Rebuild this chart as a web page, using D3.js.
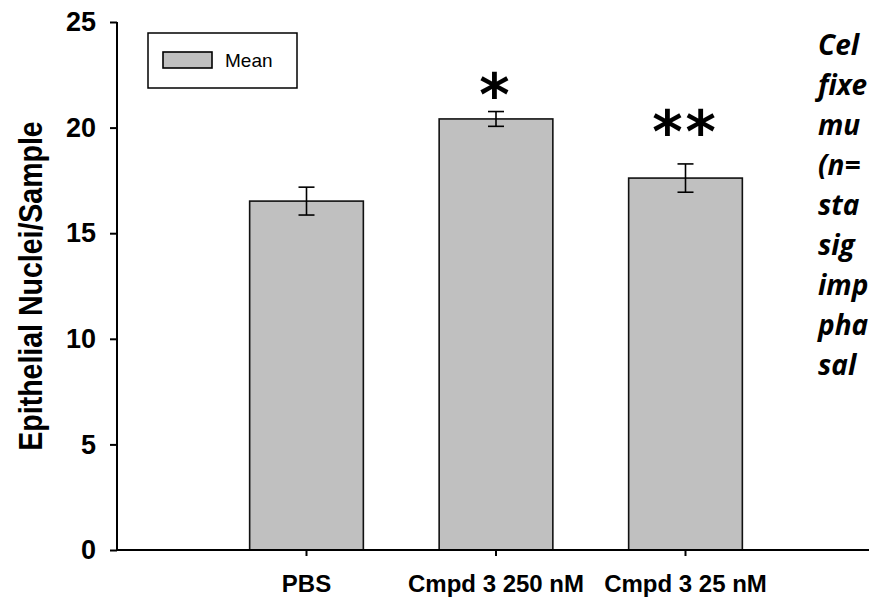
<!DOCTYPE html>
<html>
<head>
<meta charset="utf-8">
<script src="https://cdn.jsdelivr.net/npm/d3@7"></script>
<style>
  html, body { margin: 0; padding: 0; background: #fff; overflow: hidden; }
  svg { display: block; }
</style>
</head>
<body>
<svg id="chart" width="869" height="597"></svg>
<script>
// ---- data ----
const categories = ["PBS", "Cmpd 3 250 nM", "Cmpd 3 25 nM"];
const means = [16.52, 20.41, 17.61];
const errors = [0.66, 0.35, 0.67];
const sigMarks = ["", "*", "**"];
const sigLevels = [null, 21.6, 19.85];
const yTicks = [0, 5, 10, 15, 20, 25];
const legendLabels = ["Mean"];
const sideText = ["Cel", "fixe", "mu", "(n=", "sta", "sig", "imp", "pha", "sal"];

// ---- layout ----
const svg = d3.select("#chart");
const axisX = 117, axisTop = 22, axisBottom = 550;
const step = 189.5;

const y = d3.scaleLinear().domain([0, 25]).range([axisBottom, axisTop]);
const x = d3.scaleBand().domain(categories)
  .range([axisX + step / 2, axisX + step / 2 + step * categories.length])
  .paddingInner(0.4).paddingOuter(0.2);

const FONT = "'Liberation Sans', Arial, sans-serif";

// bars
svg.append("g").selectAll("rect").data(categories).join("rect")
  .attr("x", d => x(d))
  .attr("y", (d, i) => y(means[i]))
  .attr("width", x.bandwidth())
  .attr("height", (d, i) => y(0) - y(means[i]))
  .attr("fill", "#c0c0c0")
  .attr("stroke", "#111")
  .attr("stroke-width", 1.6);

// error bars
const eb = svg.append("g").attr("stroke", "#000").attr("stroke-width", 1.6).attr("fill", "none");
categories.forEach((c, i) => {
  const cx = x(c) + x.bandwidth() / 2;
  const top = y(means[i] + errors[i]), bot = y(means[i] - errors[i]);
  eb.append("line").attr("x1", cx).attr("x2", cx).attr("y1", top).attr("y2", bot);
  eb.append("line").attr("x1", cx - 8).attr("x2", cx + 8).attr("y1", top).attr("y2", top);
  eb.append("line").attr("x1", cx - 8).attr("x2", cx + 8).attr("y1", bot).attr("y2", bot);
});

// significance marks
svg.append("g").selectAll("text").data(categories).join("text")
  .attr("x", d => x(d) + x.bandwidth() / 2)
  .attr("y", (d, i) => sigLevels[i] == null ? 0 : y(sigLevels[i]) + 21)
  .attr("text-anchor", "middle")
  .attr("font-family", "'DejaVu Sans', sans-serif")
  .attr("font-weight", "bold")
  .attr("font-size", 58)
  .attr("letter-spacing", 3)
  .attr("fill", "#000")
  .text((d, i) => sigMarks[i]);

// y axis
const yAxis = svg.append("g").attr("transform", `translate(${axisX},0)`)
  .call(d3.axisLeft(y).tickValues(yTicks).tickSize(7).tickPadding(14).tickFormat(d3.format("d")));
yAxis.select(".domain").attr("stroke", "#000").attr("stroke-width", 2).attr("d", `M0,${axisTop}V${axisBottom}`);
yAxis.selectAll(".tick line").attr("stroke", "#000").attr("stroke-width", 2);
yAxis.selectAll(".tick text").attr("font-family", FONT).attr("font-weight", "bold")
  .attr("font-size", 27).attr("fill", "#000");

// x axis
const xAxis = svg.append("g").attr("transform", `translate(0,${axisBottom})`)
  .call(d3.axisBottom(x).tickSize(6).tickPadding(19));
xAxis.select(".domain").attr("stroke", "#000").attr("stroke-width", 2).attr("d", `M${axisX},0H880`);
xAxis.selectAll(".tick line").attr("stroke", "#000").attr("stroke-width", 2);
xAxis.selectAll(".tick text").attr("font-family", FONT).attr("font-weight", "bold")
  .attr("font-size", 24).attr("fill", "#000");

// y axis title
svg.append("text")
  .attr("transform", "translate(42,286) rotate(-90) scale(1,1.18)")
  .attr("text-anchor", "middle")
  .attr("font-family", FONT).attr("font-weight", "bold").attr("font-size", 28.5)
  .attr("fill", "#000")
  .text("Epithelial Nuclei/Sample");

// legend
const lg = svg.append("g");
lg.append("rect").attr("x", 148).attr("y", 33).attr("width", 149).attr("height", 55)
  .attr("fill", "#fff").attr("stroke", "#000").attr("stroke-width", 1.5);
lg.append("rect").attr("x", 163).attr("y", 52).attr("width", 49).attr("height", 16)
  .attr("fill", "#c0c0c0").attr("stroke", "#000").attr("stroke-width", 1.6);
lg.append("text").attr("x", 225).attr("y", 67)
  .attr("font-family", FONT).attr("font-size", 19).attr("fill", "#000")
  .text(legendLabels[0]);

// side text (cropped in the original)
svg.append("g").selectAll("text").data(sideText).join("text")
  .attr("x", 818)
  .attr("y", (d, i) => 55 + i * 40)
  .attr("font-family", "'Open Sans', sans-serif")
  .attr("font-weight", "bold").attr("font-style", "italic")
  .attr("font-size", 28).attr("fill", "#000")
  .text(d => d);
</script>
</body>
</html>
